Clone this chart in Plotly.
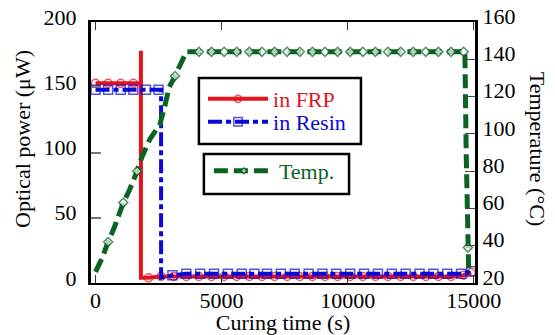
import plotly.graph_objects as go

# ---------------- data ----------------
frp_t = [0, 500, 1000, 1500, 1800, 1800, 1800, 2100, 2600, 3100, 3600, 4100, 4600, 5100, 5600,
         6100, 6600, 7100, 7600, 8100, 8600, 9100, 9600, 10100, 10600, 11100, 11600, 12100,
         12600, 13100, 13600, 14100, 14600, 14900]
frp_v = [153, 153, 153, 153, 153, 178, 4, 4, 5, 5, 5, 5, 5, 5, 5,
         5, 5, 5, 5, 5, 5, 5, 5, 5, 5, 5, 5, 5,
         5, 5, 5, 5, 6, 8]
frp_show = [1, 1, 1, 1, 0, 0, 0, 1, 1, 1, 1, 1, 1, 1, 1,
            1, 1, 1, 1, 1, 1, 1, 1, 1, 1, 1, 1, 1,
            1, 1, 1, 1, 1, 1]

resin_t = [0, 500, 1000, 1500, 2000, 2500, 2600, 2600, 3050, 3600, 4150, 4700, 5250, 5800,
           6300, 6800, 7350, 7900, 8450, 9000, 9550, 10100, 10650, 11200, 11750, 12300,
           12850, 13400, 13950, 14500, 14900]
resin_v = [148, 148, 148, 148, 148, 148, 148, 4, 6, 7, 7, 7, 7, 7,
           7, 7, 7, 7, 7, 7, 7, 7, 7, 7, 7, 7,
           7, 7, 7, 7, 9]
resin_show = [1, 1, 1, 1, 1, 1, 0, 0, 1, 1, 1, 1, 1, 1,
              1, 1, 1, 1, 1, 1, 1, 1, 1, 1, 1, 1,
              1, 1, 1, 1, 1]

temp_t = [0, 250, 500, 750, 1100, 1350, 1650, 1825, 2150, 2550, 2750, 2920, 3150, 3300, 3600,
          4100, 4600, 5100, 5600, 6100, 6600, 7100, 7600, 8100, 8600, 9100, 9600, 10100,
          10600, 11100, 11600, 12100, 12600, 13100, 13600, 14100, 14600, 14650, 14700, 14770, 14800]
temp_v = [26, 33, 42, 50, 63, 70, 80, 87, 97, 105, 115, 125, 131, 135, 144,
          144, 144, 144, 144, 144, 144, 144, 144, 144, 144, 144, 144, 144,
          144, 144, 144, 144, 144, 144, 144, 144, 144, 144, 90, 39, 26]
temp_show = [0, 0, 1, 0, 1, 0, 1, 0, 0, 0, 0, 0, 1, 0, 0,
             1, 1, 1, 1, 1, 1, 1, 1, 1, 1, 1, 1, 1,
             1, 1, 1, 1, 1, 1, 1, 1, 1, 0, 0, 1, 0]

x_ticks = [0, 5000, 10000, 15000]
y_ticks = [0, 50, 100, 150, 200]
y2_ticks = [20, 40, 60, 80, 100, 120, 140, 160]

RED = "#e4141c"
BLUE = "#0a0ad8"
GREEN = "#0b6322"
FONT = "Liberation Serif"

fig = go.Figure()

fig.add_trace(go.Scatter(
    x=frp_t, y=frp_v, mode="lines+markers",
    name=f'<span style="color:{RED}">in FRP</span>',
    line=dict(color=RED, width=4),
    marker=dict(symbol="circle-open", size=[8 * s for s in frp_show], color=RED,
                line=dict(width=1.5, color=RED)),
    legend="legend", showlegend=True,
))
fig.add_trace(go.Scatter(
    x=resin_t, y=resin_v, mode="lines+markers",
    name=f'<span style="color:{BLUE}">in Resin</span>',
    line=dict(color=BLUE, width=4, dash="14px,4px,5px,4px"),
    marker=dict(symbol="square-open", size=[9 * s for s in resin_show], color=BLUE,
                line=dict(width=1.5, color=BLUE)),
    legend="legend3", showlegend=True,
))
fig.add_trace(go.Scatter(
    x=temp_t, y=temp_v, mode="lines+markers", yaxis="y2",
    name=f'<span style="color:{GREEN}">Temp.</span>',
    line=dict(color=GREEN, width=5, dash="14px,6px"),
    marker=dict(symbol="diamond", size=[7 * s for s in temp_show], color="white",
                line=dict(width=1.5, color=GREEN)),
    legend="legend2", showlegend=True,
))

leg_common = dict(xanchor="left", yanchor="middle", bgcolor="rgba(0,0,0,0)",
                  borderwidth=0, font=dict(family=FONT, size=22), itemwidth=60)

fig.update_layout(
    width=555, height=335,
    showlegend=True,
    margin=dict(l=91, r=80, t=22, b=52),
    paper_bgcolor="white", plot_bgcolor="white",
    font=dict(family=FONT, size=22, color="black"),
    xaxis=dict(
        range=[-180, 15050], tickvals=x_ticks, ticktext=[str(v) for v in x_ticks],
        ticks="inside", ticklen=8, tickwidth=1, tickcolor="#333",
        showline=True, linecolor="black", linewidth=1.5, mirror="ticks",
        showgrid=False, zeroline=False, automargin=False, ticklabelstandoff=-3,
        title=dict(text="Curing time (s)", font=dict(size=22), standoff=4),
        tickfont=dict(size=22),
    ),
    yaxis=dict(
        range=[0, 200], tickvals=y_ticks, ticktext=[str(v) for v in y_ticks],
        ticks="inside", ticklen=10, tickwidth=1.5, tickcolor="#777",
        showline=True, linecolor="black", linewidth=3,
        showgrid=False, zeroline=False, automargin=False, ticklabelstandoff=7,
        ticklabelshift=-5,
        tickfont=dict(size=22),
    ),
    yaxis2=dict(
        range=[20, 160], tickvals=y2_ticks, ticktext=[str(v) for v in y2_ticks],
        overlaying="y", side="right", anchor="x",
        ticks="inside", ticklen=10, tickwidth=1, tickcolor="#444",
        showline=True, linecolor="black", linewidth=3,
        showgrid=False, zeroline=False, automargin=False,
        ticklabelshift=-6,
        tickfont=dict(size=22),
    ),
    legend=dict(x=0.2917, y=0.705, **leg_common),
    legend3=dict(x=0.2917, y=0.617, **leg_common),
    legend2=dict(x=0.307, y=0.429, **leg_common),
    shapes=[
        dict(type="rect", xref="paper", yref="paper", x0=0.281, x1=0.703, y0=0.533, y1=0.785,
             line=dict(color="black", width=2.5), fillcolor="white", layer="above"),
        dict(type="rect", xref="paper", yref="paper", x0=0.294, x1=0.672, y0=0.341, y1=0.494,
             line=dict(color="black", width=2.5), fillcolor="white", layer="above"),
    ],
    annotations=[
        dict(text="Temperature (°C)", textangle=90, xref="paper", yref="paper",
             x=1.165, y=0.513, xanchor="center", yanchor="middle", showarrow=False,
             font=dict(family=FONT, size=22)),
        dict(text="Optical power (μW)", textangle=-90, xref="paper", yref="paper",
             x=-0.177, y=0.552, xanchor="center", yanchor="middle", showarrow=False,
             font=dict(family=FONT, size=22)),
    ],
)

fig.write_html("out.html")
